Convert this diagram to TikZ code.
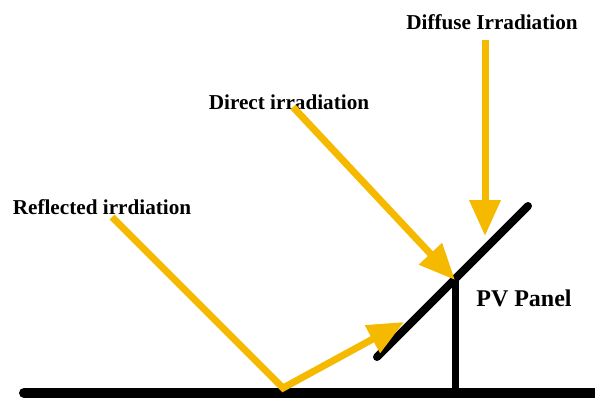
\documentclass[tikz,border=0pt]{standalone}
\usepackage{fontspec}
\setmainfont{Liberation Serif}
\usepackage{tikz}
\usetikzlibrary{positioning}
\usetikzlibrary{calc,arrows.meta}
\definecolor{sun}{RGB}{245,185,0}

\begin{document}
\begin{tikzpicture}[x=0.5pt, y=-0.5pt,
    label/.style={font=\fontsize{10.6}{12}\selectfont\bfseries, inner sep=0pt},
    ray/.style={draw=sun, line width=3.5pt, -{Triangle[length=18pt, width=15pt]}}]
    \useasboundingbox (0,0) rectangle (595,398);
    % Points
    \coordinate (gleft) at (24,393);
    \coordinate (gright) at (600,393);
    \coordinate (plow) at (377,357);
    \coordinate (phigh) at (528,206);
    \coordinate (hit) at (455,280);
    \coordinate (foot) at (455,393);
    \coordinate (bounce) at (283,388);
    % Nodes
    \node [label] (refl) at (102,207) {Reflected irrdiation};
    \node [label] (direct) at (289,102) {Direct irradiation};
    \node [label] (diffuse) at (492,22) {Diffuse Irradiation};
    \node [label, font=\fontsize{12}{14}\selectfont\bfseries] (pv) at (524,298) {PV Panel};
    % Ground, panel and post
    \draw [line width=5pt, line cap=round] (gleft) -- (gright);
    \draw [line width=3.5pt] (hit) -- (foot);
    \draw [line width=4pt, line cap=round] (plow) -- (phigh);
    % Arrows
    \draw [ray] (293,107) -- (hit);
    \draw [ray] (485,40) -- (485,236);
    \draw [ray, line join=miter] (112,217) -- (bounce) -- (404,322);
\end{tikzpicture}
\end{document}
